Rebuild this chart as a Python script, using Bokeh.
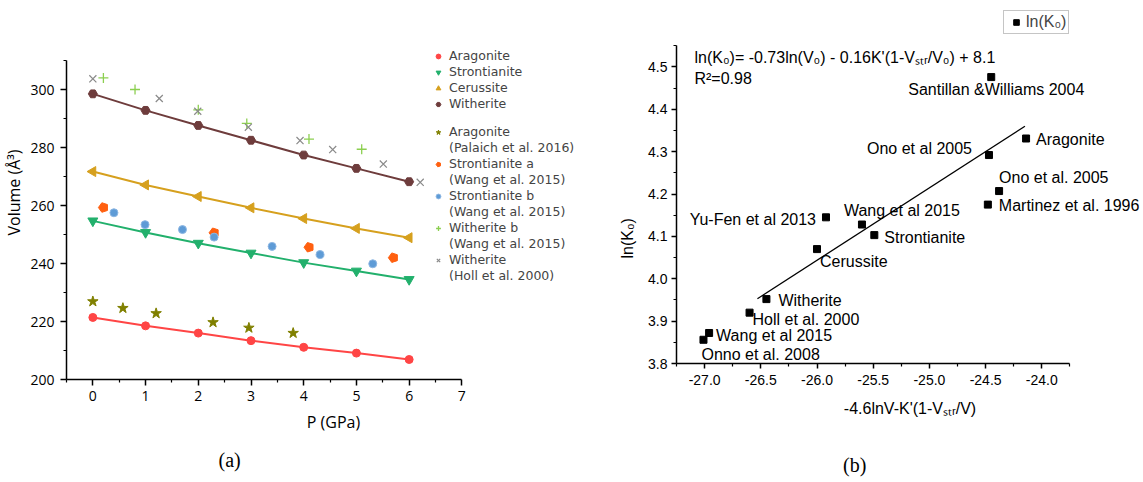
import numpy as np
from bokeh.plotting import figure
from bokeh.models import (Range1d, FixedTicker, PrintfTickFormatter, Legend, LegendItem,
                          Label, ColumnDataSource, Title, Div)
from bokeh.layouts import row, column
from bokeh.embed import file_html
from bokeh.resources import INLINE
from bokeh.core.properties import value

# ---------------- panel (a) data ----------------
P = [0, 1, 2, 3, 4, 5, 6]
V_aragonite = [221.4, 218.5, 216.0, 213.4, 211.1, 209.1, 206.9]
V_strontianite = [254.7, 250.7, 247.0, 243.6, 240.3, 237.4, 234.5]
V_cerussite = [271.7, 267.1, 263.1, 259.2, 255.5, 252.1, 248.9]
V_witherite = [298.5, 292.8, 287.6, 282.5, 277.4, 272.8, 268.2]

palaich_P = [0, 0.57, 1.20, 2.28, 2.96, 3.80]
palaich_V = [226.9, 224.6, 222.8, 219.7, 217.8, 216.0]
stron_a_P = [0.20, 2.30, 4.10, 5.70]
stron_a_V = [259.3, 250.6, 245.6, 242.0]
stron_b_P = [0.40, 0.99, 1.70, 2.30, 3.40, 4.31, 5.31]
stron_b_V = [257.5, 253.4, 251.7, 249.1, 245.9, 243.1, 239.9]
with_b_P = [0.20, 0.80, 2.00, 2.92, 4.10, 5.10]
with_b_V = [304.0, 300.0, 293.0, 288.3, 282.9, 279.4]
holl_P = [0, 1.26, 1.99, 2.95, 3.93, 4.55, 5.51, 6.21]
holl_V = [303.7, 296.9, 292.5, 287.0, 282.4, 279.3, 274.3, 268.0]

a_xticks = [0, 1, 2, 3, 4, 5, 6, 7]
a_xminor = [-0.5, 0.5, 1.5, 2.5, 3.5, 4.5, 5.5, 6.5]
a_yticks = [200, 220, 240, 260, 280, 300]
a_yminor = [210, 230, 250, 270, 290, 310]

# ---------------- panel (b) data ----------------
b_x = [-24.45, -24.14, -24.47, -24.38, -24.48, -25.92, -25.60, -25.49, -26.00, -26.45, -26.60, -26.96, -27.01]
b_y = [4.476, 4.331, 4.292, 4.207, 4.175, 4.145, 4.128, 4.103, 4.070, 3.952, 3.920, 3.872, 3.856]
b_names = ["Santillan &Williams 2004", "Aragonite", "Ono et al 2005", "Ono et al. 2005",
           "Martinez et al. 1996", "Yu-Fen et al 2013", "Wang et al 2015", "Strontianite",
           "Cerussite", "Witherite", "Holl et al. 2000", "Wang et al 2015", "Onno et al. 2008"]
fit_x = [-26.53, -24.15]
fit_y = [3.953, 4.360]

b_xticks = [-27.0, -26.5, -26.0, -25.5, -25.0, -24.5, -24.0]
b_xminor = [-27.25, -26.75, -26.25, -25.75, -25.25, -24.75, -24.25, -23.75]
b_yticks = [3.8, 3.9, 4.0, 4.1, 4.2, 4.3, 4.4, 4.5]
b_yminor = [3.85, 3.95, 4.05, 4.15, 4.25, 4.35, 4.45, 4.55]

# label placement (screen offsets, px) and alignment -- styling only
lab_dx = [-83, 10, -17, 0, 11, -10, -18, 10, 3, 12, 3, 7, -2]
lab_dy = [12, 1, -7, -14, 1, 2, -14, 2, 12, 1, 7, 3, 15]
lab_align = ["left", "left", "right", "left", "left", "right", "left", "left",
             "left", "left", "left", "left", "left"]

LFONT = "Open Sans"
LEGFONT = "DejaVu Sans"
RFONT = "Liberation Sans"

C_ARAG = "#ff4545"
C_STRON = "#22b06c"
C_CER = "#d6a01e"
C_WITH = "#6e3c3c"
C_OLIVE = "#808000"
C_ORANGE = "#ff6010"
C_BLUE = "#5e9bd6"
C_LIME = "#8ccf50"
C_GRAY = "#8a8a8a"

TOP = 5
BOTTOM = 103


def style_axes(p, font, tick_size, label_size, tick_out, xstand, ystand, xlab_st, ylab_st):
    for ax in (p.xaxis[0], p.yaxis[0]):
        ax.axis_line_width = 1.5
        ax.axis_line_color = "black"
        ax.major_tick_line_width = 1.5
        ax.minor_tick_line_width = 1.2
        ax.major_tick_in = 0
        ax.major_tick_out = tick_out
        ax.minor_tick_in = 0
        ax.minor_tick_out = 3
        ax.major_label_text_font = font
        ax.major_label_text_font_size = tick_size
        ax.major_label_text_color = "black"
        ax.axis_label_text_font = font
        ax.axis_label_text_font_size = label_size
        ax.axis_label_text_font_style = "normal"
        ax.axis_label_text_color = "black"
    p.xaxis[0].major_label_standoff = xstand
    p.yaxis[0].major_label_standoff = ystand
    p.xaxis[0].axis_label_standoff = xlab_st
    p.yaxis[0].axis_label_standoff = ylab_st
    p.grid.visible = False
    p.outline_line_color = None
    p.background_fill_color = "white"
    p.border_fill_color = "white"


# ======================= panel (a) =======================
H1 = 482
a_ppu_y = 2.9        # px per volume unit
a_ppu_x = 369 / 7.0  # px per GPa
a_frame_h = H1 - TOP - BOTTOM
p1 = figure(width=600, height=H1,
            x_range=Range1d(-0.5, -0.5 + (600 - 66) / a_ppu_x),
            y_range=Range1d(200, 200 + a_frame_h / a_ppu_y),
            output_backend="svg", toolbar_location=None,
            min_border_left=66, min_border_right=0, min_border_top=TOP, min_border_bottom=BOTTOM,
            x_axis_label="P (GPa)", y_axis_label="Volume (Å³)")
p1.xaxis[0].ticker = FixedTicker(ticks=a_xticks, minor_ticks=a_xminor)
p1.yaxis[0].ticker = FixedTicker(ticks=a_yticks, minor_ticks=a_yminor)
p1.xaxis[0].bounds = (-0.5, 7)
p1.yaxis[0].bounds = (200, 310)
style_axes(p1, LFONT, "14px", "16px", 6, 5, 6, 7, 2)

p1.line(P, V_aragonite, line_color=C_ARAG, line_width=2)
r_arag = p1.scatter(P, V_aragonite, marker="circle", size=8, fill_color=C_ARAG, line_color=C_ARAG)
p1.line(P, V_strontianite, line_color=C_STRON, line_width=2)
r_stron = p1.scatter(P, V_strontianite, marker="inverted_triangle", size=10,
                     fill_color=C_STRON, line_color=C_STRON)
p1.line(P, V_cerussite, line_color=C_CER, line_width=2)
r_cer = p1.scatter(P, V_cerussite, marker="triangle", angle=np.pi / 2, size=10,
                   fill_color=C_CER, line_color=C_CER)
p1.line(P, V_witherite, line_color=C_WITH, line_width=2)
r_with = p1.scatter(P, V_witherite, marker="hex", size=9, fill_color=C_WITH, line_color=C_WITH)

r_pal = p1.scatter(palaich_P, palaich_V, marker="star", size=11, fill_color=C_OLIVE, line_color=C_OLIVE)
try:
    r_sa = p1.ngon(x=stron_a_P, y=stron_a_V, radius=5, radius_units="screen", n=5,
                   angle=np.pi / 2, fill_color=C_ORANGE, line_color=C_ORANGE)
except Exception:
    r_sa = p1.scatter(stron_a_P, stron_a_V, marker="hex", size=9, fill_color=C_ORANGE, line_color=C_ORANGE)
r_sb = p1.scatter(stron_b_P, stron_b_V, marker="circle", size=8, fill_color=C_BLUE, line_color="#8db7e3")
r_wb = p1.scatter(with_b_P, with_b_V, marker="cross", size=10, line_color=C_LIME, line_width=1.3)
r_holl = p1.scatter(holl_P, holl_V, marker="x", size=10, line_color=C_GRAY, line_width=1.2)

dummy = p1.scatter(x=[], y=[], marker="circle", size=1, fill_alpha=0, line_alpha=0)

leg_kw = dict(label_text_font=LEGFONT, label_text_font_size="12.5px", label_height=12,
              glyph_height=12, glyph_width=14, spacing=1, label_standoff=4, padding=0, margin=0,
              border_line_color=None, background_fill_alpha=0)
leg1 = Legend(items=[LegendItem(label="Aragonite", renderers=[r_arag]),
                     LegendItem(label="Strontianite", renderers=[r_stron]),
                     LegendItem(label="Cerussite", renderers=[r_cer]),
                     LegendItem(label="Witherite", renderers=[r_with])],
              location=(365, 268), **leg_kw)
leg2 = Legend(items=[LegendItem(label="Aragonite", renderers=[r_pal]),
                     LegendItem(label="(Palaich et al. 2016)", renderers=[dummy]),
                     LegendItem(label="Strontianite a", renderers=[r_sa]),
                     LegendItem(label="(Wang et al. 2015)", renderers=[dummy]),
                     LegendItem(label="Strontianite b", renderers=[r_sb]),
                     LegendItem(label="(Wang et al. 2015)", renderers=[dummy]),
                     LegendItem(label="Witherite b", renderers=[r_wb]),
                     LegendItem(label="(Wang et al. 2015)", renderers=[dummy]),
                     LegendItem(label="Witherite", renderers=[r_holl]),
                     LegendItem(label="(Holl et al. 2000)", renderers=[dummy])],
              location=(365, 96), **leg_kw)
p1.add_layout(leg1, "center")
p1.add_layout(leg2, "center")

p1.add_layout(Title(text="(a)", align="left", offset=152, standoff=23,
                    text_font="Liberation Serif", text_font_size="20px",
                    text_font_style="normal", text_color="black"), "below")

# ======================= panel (b) =======================
H2 = 466   # its x axis sits 16 px higher than in panel (a)
b_ppu_y = 423.7
b_ppu_x = 112.4
b_frame_h = H2 - TOP - BOTTOM
p2 = figure(width=543, height=H2,
            x_range=Range1d(-27.25, -27.25 + (543 - 76) / b_ppu_x),
            y_range=Range1d(3.8, 3.8 + b_frame_h / b_ppu_y),
            output_backend="svg", toolbar_location=None,
            min_border_left=76, min_border_right=0, min_border_top=TOP, min_border_bottom=BOTTOM,
            x_axis_label="-4.6lnV-K'(1-Vₛₜᵣ/V)")
p2.xaxis[0].ticker = FixedTicker(ticks=b_xticks, minor_ticks=b_xminor)
p2.yaxis[0].ticker = FixedTicker(ticks=b_yticks, minor_ticks=b_yminor)
p2.xaxis[0].formatter = PrintfTickFormatter(format="%.1f")
p2.yaxis[0].formatter = PrintfTickFormatter(format="%.1f")
p2.xaxis[0].bounds = (-27.25, -23.75)
p2.yaxis[0].bounds = (3.8, 4.55)
style_axes(p2, RFONT, "14px", "16px", 5, 6, 4, 12, 12)

# y-axis title placed like the original (below the axis centre)
p2.add_layout(Title(text="ln(K₀)", align="left", offset=105, standoff=16, vertical_align="top",
                    text_font=RFONT, text_font_size="16px", text_font_style="normal",
                    text_color="black"), "left")

p2.line(fit_x, fit_y, line_color="black", line_width=1.3)
src = ColumnDataSource(dict(x=b_x, y=b_y, name=b_names, dx=lab_dx, dy=lab_dy, align=lab_align))
r_sq = p2.scatter("x", "y", source=src, marker="square", size=7, fill_color="black", line_color="black")
p2.text(x="x", y="y", text="name", x_offset="dx", y_offset="dy", text_align="align",
        source=src, text_baseline="middle", text_font=value(RFONT), text_font_size="16px",
        text_color="black")

p2.add_layout(Label(x=-27.09, y=4.522, text="ln(K₀)= -0.73ln(V₀) - 0.16K'(1-Vₛₜᵣ/V₀) + 8.1",
                    text_baseline="middle", text_font=RFONT, text_font_size="16px", text_color="black"))
p2.add_layout(Label(x=-27.09, y=4.472, text="R²=0.98",
                    text_baseline="middle", text_font=RFONT, text_font_size="16px", text_color="black"))

leg3 = Legend(items=[LegendItem(label="ln(K₀)", renderers=[r_sq])], location=(327, 329),
              label_text_font=RFONT, label_text_font_size="16px", label_height=14, glyph_height=14,
              glyph_width=20, label_standoff=0, padding=2, margin=0,
              border_line_color="#8c8c8c", border_line_width=1, background_fill_color="white")
p2.add_layout(leg3, "center")

cap_b = Div(text="(b)", width=543, height=16,
            styles={"font-family": "Liberation Serif", "font-size": "20px", "line-height": "20px",
                    "text-indent": "238px", "color": "black", "position": "relative", "top": "-16px",
                    "white-space": "nowrap"})

layout = row(p1, column(p2, cap_b))
open("out.html", "w").write(file_html(layout, INLINE))
